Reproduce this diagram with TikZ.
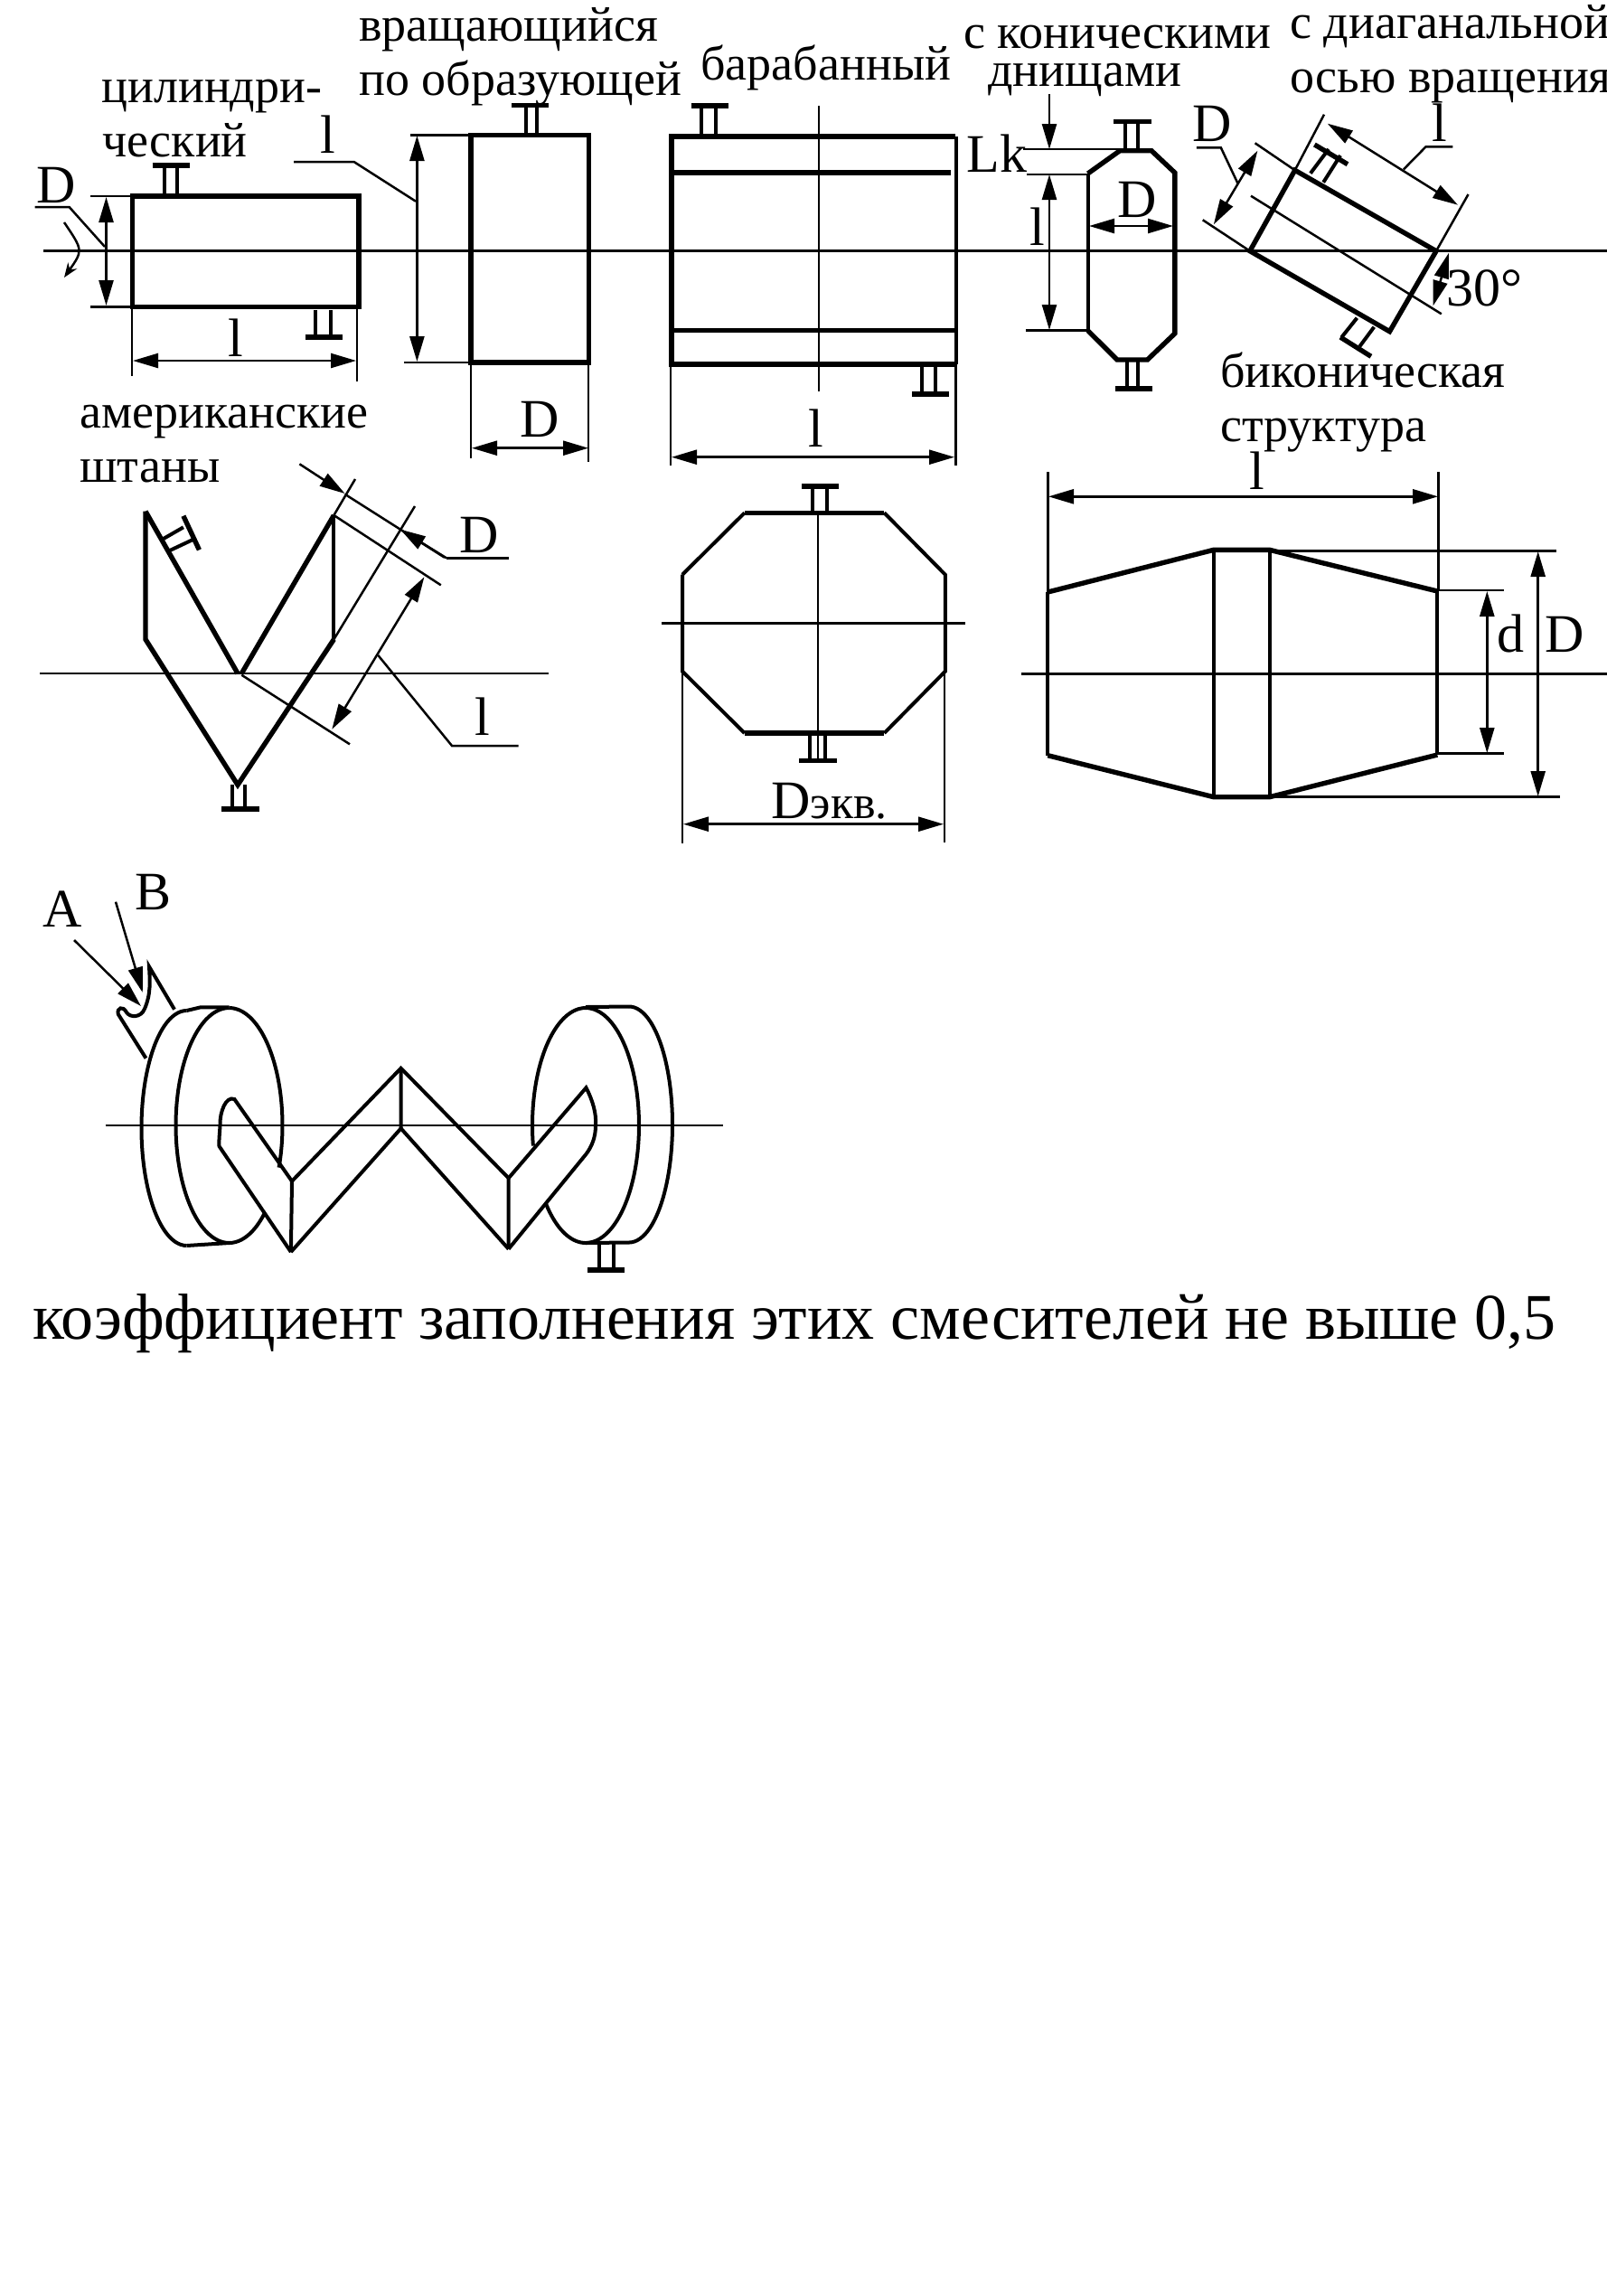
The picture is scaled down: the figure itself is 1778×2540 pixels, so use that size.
\documentclass[tikz,border=0pt]{standalone}
\usepackage{fontspec}
\setmainfont{Liberation Serif}
\usetikzlibrary{arrows.meta}
\tikzset{
 thin line/.style={line width=1.25pt},
 mid line/.style={line width=2pt},
 thick line/.style={line width=2.7pt},
 dim/.style={thin line,{Triangle[length=14pt,width=8pt]}-{Triangle[length=14pt,width=8pt]}},
 arr/.style={thin line,-{Triangle[length=14pt,width=8pt]}},
 txt/.style={inner sep=0pt,anchor=base west,font=\fontsize{27}{30}\selectfont},
 lab/.style={inner sep=0pt,anchor=base,font=\fontsize{30}{32}\selectfont},
 captxt/.style={inner sep=0pt,anchor=base west,font=\fontsize{36}{40}\selectfont}
}
\begin{document}
\begin{tikzpicture}[x=0.5pt,y=-0.5pt,line join=miter]
\useasboundingbox[fill=white] (0,0) rectangle (1778,2540);
% --- axes
\draw[thin line] (48,277.7) -- (1778,277.7);
\draw[thin line] (44,745) -- (607,745);
\draw[thin line] (732,689.3) -- (1068,689.3);
\draw[thin line] (1130,745.3) -- (1778,745.3);
\draw[thin line] (116.5,1245) -- (800,1245);
% --- cylindrical
\draw[thick line] (146.4,217) rectangle (397,339.3);
\draw[mid line] (181.6,217) -- (181.6,183) (195.8,217) -- (195.8,183);
\draw[thick line] (168.6,183) -- (210,183);
\draw[mid line] (349,343) -- (349,373) (366,343) -- (366,373);
\draw[thick line] (337.7,373) -- (379,373);
\draw[thin line] (100,217) -- (146,217) (100,339.3) -- (146,339.3);
\draw[dim] (117.5,218) -- (117.5,338);
\draw[thin line] (116,273) -- (76.6,229) -- (38.6,229);
\node[lab] (d1) at (62,224) {D};
\draw[thin line,-{Stealth[length=8pt,width=6pt]}] (71,246) .. controls (92,277) .. (71,307);
\draw[thin line] (146,340) -- (146,416) (395,340) -- (395,422);
\draw[dim] (147,399) -- (394,399);
\node[lab] (l1) at (261,394) {l};
\node[txt] (t1) at (112,113) {цилиндри-};
\node[txt] (t2) at (113,173) {ческий};
% --- rotating along generatrix
\draw[thick line] (521,149.5) rectangle (651.5,401);
\draw[mid line] (582,149) -- (582,116.7) (594,149) -- (594,116.7);
\draw[thick line] (566,116.7) -- (607,116.7);
\draw[thin line] (454,149.7) -- (521,149.7) (447,401) -- (521,401);
\draw[dim] (461.4,150) -- (461.4,400);
\draw[thin line] (460,222.7) -- (391.6,179) -- (325,179);
\node[lab] (l2) at (363,169) {l};
\draw[thin line] (521,401) -- (521,507) (651,401) -- (651,511);
\draw[dim] (522,495.7) -- (651,495.7);
\node[lab] (d2) at (597,483) {D};
\node[txt] (t3) at (397,45) {вращающийся};
\node[txt] (t4) at (397,105) {по образующей};
% --- drum
\draw[thick line] (1057,151) -- (743,151) -- (743,403) -- (1057,403);
\draw[thick line] (743,191) -- (1052,191) (743,365.7) -- (1057,365.7);
\draw[mid line] (1057.5,151) -- (1057.5,403);
\draw[thin line] (1057.5,403) -- (1057.5,515) (741.8,403) -- (741.8,515);
\draw[thin line] (905.8,117) -- (905.8,433);
\draw[mid line] (776,151) -- (776,117) (792,151) -- (792,117);
\draw[thick line] (764.5,117) -- (806,117);
\draw[mid line] (1020.3,405) -- (1020.3,436) (1034.6,405) -- (1034.6,436);
\draw[thick line] (1009,436) -- (1050,436);
\draw[dim] (743,505.7) -- (1056,505.7);
\node[lab] (l3) at (903,494) {l};
\node[txt] (t5) at (775,88) {барабанный};
% --- conical bottoms
\draw[thick line] (1203.6,192) -- (1239,166.7) -- (1274,166.7) -- (1299.8,191) -- (1299.8,369) -- (1269.5,398) -- (1236,398) -- (1203.6,365.7);
\draw[mid line] (1203.6,192) -- (1203.6,365.7);
\draw[mid line] (1244.8,166) -- (1244.8,134.3) (1259,166) -- (1259,134.3);
\draw[thick line] (1232,134.3) -- (1274,134.3);
\draw[mid line] (1246.5,398) -- (1246.5,430) (1259,398) -- (1259,430);
\draw[thick line] (1234,430) -- (1275,430);
\draw[thin line] (1132,165) -- (1242,165) (1136,193) -- (1203,193) (1135,365.7) -- (1203,365.7);
\draw[arr] (1161,104) -- (1161,165);
\draw[dim] (1161,193) -- (1161,365);
\node[lab] (lk) at (1103,190) {Lk};
\node[lab] (l4) at (1147.5,271) {l};
\draw[dim] (1205,250) -- (1298,250);
\node[lab] (d4) at (1258,240) {D};
\node[txt] (t6) at (1066,53) {с коническими};
\node[txt] (t7) at (1093,95) {днищами};
% --- diagonal axis
\draw[thick line] (1382.9,277.7) -- (1432.7,188.3) -- (1589,277.7) -- (1537.5,366.7) -- cycle;
\draw[thin line] (1589,277.7) -- (1624.5,215) (1432.7,188.3) -- (1465,126.7);
\draw[thin line] (1432.7,188.3) -- (1388.6,158.3) (1382.9,277.7) -- (1330.7,243.3);
\draw[thin line] (1384,216.7) -- (1594.8,347.3);
\draw[dim] (1391.4,166.7) -- (1342.8,248.3);
\draw[dim] (1468.8,136.7) -- (1613,226.7);
\draw[thin line] (1369.7,203.3) -- (1350.8,163.3) -- (1323.9,163.3);
\draw[thin line] (1553,187.3) -- (1577.6,162.3) -- (1607.4,162.3);
\node[lab] (d5) at (1341,156) {D};
\node[lab] (l5) at (1593,156) {l};
\draw[mid line] (1449.9,191.7) -- (1470,165) (1464.2,201.7) -- (1483,172);
\draw[thick line] (1454.4,160) -- (1491,181.7);
\draw[mid line] (1501.4,351.7) -- (1484.2,373.3) (1520.3,361.7) -- (1504.3,383.3);
\draw[thick line] (1483,373) -- (1516.9,394.3);
\draw[dim] (1602.8,280) -- (1585.6,338.3);
\node[lab] (a30) at (1642,338) {30°};
\node[txt] (t8) at (1427,42) {с диаганальной};
\node[txt] (t9) at (1427,102) {осью вращения};
% --- american trousers
\draw[thick line] (161,565.7) -- (161,707.3) -- (263,868.3) -- (369.4,707.3);
\draw[thick line] (161,565.7) -- (263,745);
\draw[thick line] (267.3,745) -- (369.4,570);
\draw[mid line] (369.4,570) -- (369.4,707.3);
\draw[mid line] (179.6,596.7) -- (202.9,583.3) (185.7,610) -- (214,596.7);
\draw[thick line] (202.9,570.7) -- (220.4,608.3);
\draw[mid line] (257,868) -- (257,895) (271.4,868) -- (271.4,895);
\draw[thick line] (245,895) -- (287,895);
\draw[thin line] (369.4,570) -- (393,530) (369.4,707.3) -- (459,560);
\draw[thin line] (381.6,546.7) -- (491.8,616.7);
\draw[arr] (331.4,513.3) -- (381.6,546);
\draw[arr] (493.9,617.3) -- (442.9,585.7);
\draw[thin line] (493.9,617.3) -- (563.3,617.3);
\node[lab] (d6) at (530.6,611.7) {D};
\draw[thin line] (369.4,570) -- (487.8,647.3) (267.3,746.7) -- (387,823.3);
\draw[dim] (469.4,638.3) -- (367.3,806.7);
\draw[thin line] (418.4,725) -- (500,825) -- (573.5,825);
\node[lab] (l6) at (534,813) {l};
\node[txt] (t10) at (88,473) {американские};
\node[txt] (t11) at (88,533) {штаны};
% --- octagon
\draw[mid line] (755,635.7) -- (823.8,567.3) (978.4,567.3) -- (1045.8,635.7) -- (1045.8,742.7) -- (978.4,811) (823.8,811) -- (755,742.7) -- (755,635.7);
\draw[thick line] (823.8,567.3) -- (978.4,567.3) (823.8,811) -- (978.4,811);
\draw[thin line] (904.9,567) -- (904.9,840);
\draw[mid line] (899.4,567) -- (899.4,538) (914.5,567) -- (914.5,538);
\draw[thick line] (887,538) -- (928,538);
\draw[mid line] (896,811) -- (896,841.7) (913,811) -- (913,841.7);
\draw[thick line] (884,841.7) -- (925.5,841.7);
\draw[thin line] (755,742.7) -- (755,933) (1045,742.7) -- (1045,931.7);
\draw[dim] (756,911.7) -- (1044,911.7);
\node[lab,anchor=base west] (dek) at (853,905) {D\fontsize{26}{28}\selectfont экв.};
% --- biconical
\draw[thick line] (1159.3,655) -- (1342.8,608.3) -- (1404.7,608.3) -- (1590.3,654);
\draw[thick line] (1159.3,835.7) -- (1342.8,881.7) -- (1404.7,881.7) -- (1590.3,835);
\draw[mid line] (1159.3,655) -- (1159.3,835.7) (1342.8,608.3) -- (1342.8,881.7) (1404.7,608.3) -- (1404.7,881.7) (1590.3,654) -- (1590.3,835);
\draw[thin line] (1159.3,522.3) -- (1159.3,655) (1591.7,522.3) -- (1591.7,654);
\draw[dim] (1160,549.3) -- (1591,549.3);
\node[lab] (l7) at (1391,541.7) {l};
\draw[thin line] (1408,609.3) -- (1722,609.3) (1408,881.7) -- (1725.8,881.7);
\draw[dim] (1701.7,610) -- (1701.7,881);
\draw[thin line] (1590,653) -- (1664,653) (1590,833.3) -- (1664,833.3);
\draw[dim] (1645.3,654) -- (1645.3,833);
\node[lab] (d7a) at (1671.5,721.7) {d};
\node[lab] (d7b) at (1731,721.7) {D};
\node[txt] (t12) at (1350,428) {биконическая};
\node[txt] (t13) at (1350,488) {структура};
% --- disks and zigzag
\draw[mid line] plot[smooth,domain=-90:21,samples=40] ({253.5+59*cos(\x)},{1245+130*sin(\x)});
\draw[mid line] plot[smooth,domain=48:270,samples=70] ({253.5+59*cos(\x)},{1245+130*sin(\x)});
\draw[mid line] plot[smooth,domain=90:270,samples=50] ({206.5+50*cos(\x)},{1248+130*sin(\x)});
\draw[mid line] (206.5,1118) -- (222,1114.3) -- (253.5,1114.3) (206.5,1378) -- (253.5,1375);
\draw[mid line] plot[smooth,domain=-90:90,samples=50] ({648+59*cos(\x)},{1245+130*sin(\x)});
\draw[mid line] plot[smooth,domain=170:270,samples=30] ({648+59*cos(\x)},{1245+130*sin(\x)});
\draw[mid line] plot[smooth,domain=90:138,samples=20] ({648+59*cos(\x)},{1245+130*sin(\x)});
\draw[mid line] plot[smooth,domain=-90:90,samples=50] ({696+48*cos(\x)},{1244+130.5*sin(\x)});
\draw[mid line] (648,1114) -- (696,1113.5) (648,1375) -- (696,1374.5);
\draw[mid line] (662.8,1375) -- (662.8,1405) (678.7,1375) -- (678.7,1405);
\draw[thick line] (650,1405) -- (691,1405);
% inlet
\draw[mid line] (161.5,1170.7) -- (130.8,1122) .. controls (129,1115) and (136,1112) .. (140,1120) .. controls (144,1126) and (156,1126) .. (160,1116) .. controls (167,1100) and (166,1085) .. (165,1069.3) -- (193,1116.7);
\draw[arr] (82,1040) -- (156,1113);
\draw[arr] (128,997.7) -- (157.8,1098);
\node[lab] (ta) at (69,1025) {A};
\node[lab] (tb) at (169.4,1006) {B};
% zigzag
\draw[mid line] (323,1306.7) -- (443.6,1181.7) -- (562.7,1303.3);
\draw[mid line] (321.9,1385) -- (443.6,1248.3) -- (562.7,1381.7);
\draw[mid line] (323,1306.7) -- (321.9,1385) (443.6,1181.7) -- (443.6,1248.3) (562.7,1303.3) -- (562.7,1381.7);
\draw[mid line] (323,1306.7) -- (259.4,1216) .. controls (250,1212) and (243,1230) .. (243.5,1245) .. controls (243,1255) and (242,1262) .. (242.5,1268) -- (321.9,1385);
\draw[mid line] (562.7,1303.3) -- (648.5,1203.3) .. controls (656,1218) and (660,1232) .. (659,1245) .. controls (659,1258) and (655,1268) .. (648.5,1276.7) -- (562.7,1381.7);
% --- caption
\node[captxt] (c1) at (36,1481) {коэффициент заполнения этих смесителей не выше 0,5};
\end{tikzpicture}
\end{document}
